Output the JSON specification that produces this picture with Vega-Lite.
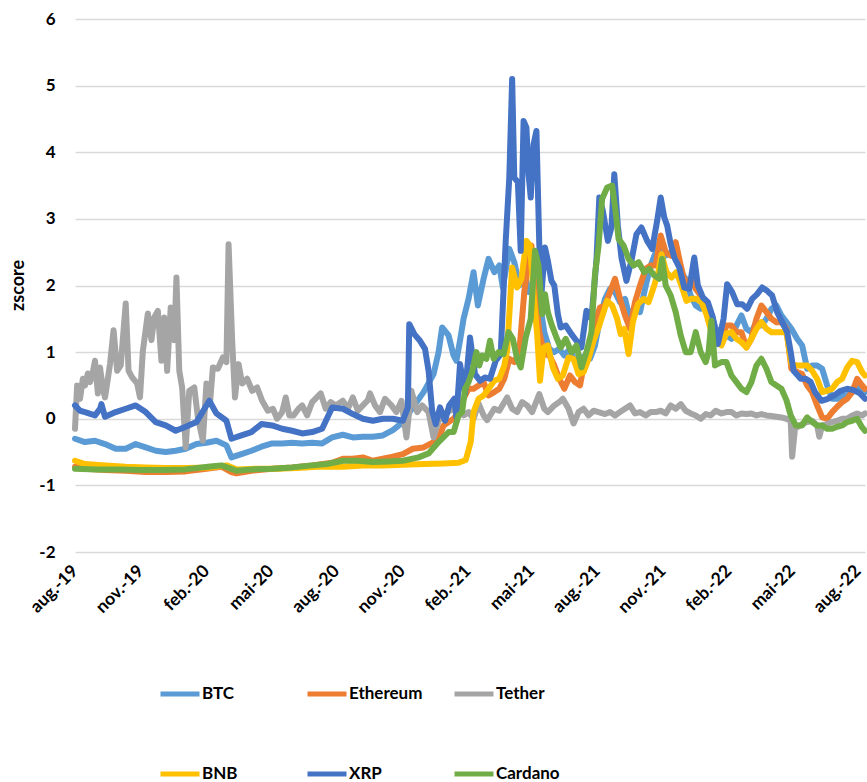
{
  "$schema": "https://vega.github.io/schema/vega-lite/v6.json",
  "autosize": "none",
  "padding": {"left": 75, "top": 19, "right": 2, "bottom": 230},
  "width": 790,
  "height": 533,
  "background": "white",
  "config": {
    "view": {"stroke": null},
    "font": "Lato"
  },
  "datasets": {
    "ticks": [
      {"t": "2019-08-01"}, {"t": "2019-11-01"}, {"t": "2020-02-01"}, {"t": "2020-05-01"},
      {"t": "2020-08-01"}, {"t": "2020-11-01"}, {"t": "2021-02-01"}, {"t": "2021-05-01"},
      {"t": "2021-08-01"}, {"t": "2021-11-01"}, {"t": "2022-02-01"}, {"t": "2022-05-01"},
      {"t": "2022-08-01"}
    ],
    "btc": [
      {"t":"2019-08-01","z":-0.3},{"t":"2019-08-15","z":-0.35},{"t":"2019-08-29","z":-0.33},{"t":"2019-09-12","z":-0.38},
      {"t":"2019-09-27","z":-0.45},{"t":"2019-10-11","z":-0.45},{"t":"2019-10-25","z":-0.38},{"t":"2019-11-08","z":-0.43},
      {"t":"2019-11-22","z":-0.48},{"t":"2019-12-06","z":-0.5},{"t":"2019-12-20","z":-0.48},{"t":"2020-01-03","z":-0.45},
      {"t":"2020-01-18","z":-0.38},{"t":"2020-02-01","z":-0.36},{"t":"2020-02-15","z":-0.33},{"t":"2020-02-29","z":-0.4},
      {"t":"2020-03-07","z":-0.58},{"t":"2020-03-21","z":-0.53},{"t":"2020-04-04","z":-0.48},{"t":"2020-04-18","z":-0.42},
      {"t":"2020-05-03","z":-0.37},{"t":"2020-05-17","z":-0.37},{"t":"2020-05-31","z":-0.36},{"t":"2020-06-14","z":-0.37},
      {"t":"2020-06-28","z":-0.36},{"t":"2020-07-12","z":-0.37},{"t":"2020-07-26","z":-0.28},{"t":"2020-08-10","z":-0.24},
      {"t":"2020-08-24","z":-0.28},{"t":"2020-09-07","z":-0.27},{"t":"2020-09-21","z":-0.27},{"t":"2020-10-05","z":-0.25},
      {"t":"2020-10-19","z":-0.17},{"t":"2020-11-02","z":-0.05},{"t":"2020-11-16","z":0.17},{"t":"2020-12-01","z":0.4},
      {"t":"2020-12-15","z":0.67},{"t":"2020-12-22","z":1.0},{"t":"2020-12-27","z":1.37},{"t":"2021-01-05","z":1.25},
      {"t":"2021-01-12","z":0.95},{"t":"2021-01-16","z":0.87},{"t":"2021-01-21","z":1.17},{"t":"2021-01-26","z":1.5},
      {"t":"2021-02-02","z":1.8},{"t":"2021-02-09","z":2.2},{"t":"2021-02-15","z":1.7},{"t":"2021-02-23","z":2.1},
      {"t":"2021-03-02","z":2.4},{"t":"2021-03-10","z":2.2},{"t":"2021-03-17","z":2.3},{"t":"2021-03-22","z":1.97},
      {"t":"2021-03-31","z":2.55},{"t":"2021-04-07","z":2.35},{"t":"2021-04-14","z":2.0},{"t":"2021-04-21","z":2.2},
      {"t":"2021-04-28","z":1.9},{"t":"2021-05-05","z":2.0},{"t":"2021-05-12","z":1.8},{"t":"2021-05-19","z":1.3},
      {"t":"2021-05-26","z":1.05},{"t":"2021-06-02","z":1.0},{"t":"2021-06-09","z":1.05},{"t":"2021-06-16","z":0.95},
      {"t":"2021-06-24","z":1.05},{"t":"2021-07-01","z":0.85},{"t":"2021-07-08","z":0.9},{"t":"2021-07-15","z":0.95},
      {"t":"2021-07-22","z":0.9},{"t":"2021-07-29","z":1.1},{"t":"2021-08-05","z":1.5},{"t":"2021-08-12","z":1.8},
      {"t":"2021-08-19","z":1.95},{"t":"2021-08-26","z":1.9},{"t":"2021-09-02","z":1.75},{"t":"2021-09-09","z":1.8},
      {"t":"2021-09-16","z":1.5},{"t":"2021-09-23","z":1.7},{"t":"2021-09-30","z":1.6},{"t":"2021-10-08","z":2.0},
      {"t":"2021-10-15","z":2.3},{"t":"2021-10-22","z":2.5},{"t":"2021-10-29","z":2.7},{"t":"2021-11-05","z":2.45},
      {"t":"2021-11-12","z":2.5},{"t":"2021-11-19","z":2.6},{"t":"2021-11-26","z":2.2},{"t":"2021-12-03","z":2.1},
      {"t":"2021-12-10","z":1.85},{"t":"2021-12-17","z":1.7},{"t":"2021-12-24","z":1.65},{"t":"2021-12-31","z":1.7},
      {"t":"2022-01-07","z":1.6},{"t":"2022-01-14","z":1.35},{"t":"2022-01-22","z":1.3},{"t":"2022-01-29","z":1.25},
      {"t":"2022-02-05","z":1.2},{"t":"2022-02-12","z":1.4},{"t":"2022-02-19","z":1.55},{"t":"2022-02-26","z":1.35},
      {"t":"2022-03-05","z":1.3},{"t":"2022-03-12","z":1.45},{"t":"2022-03-19","z":1.4},{"t":"2022-03-26","z":1.5},
      {"t":"2022-04-02","z":1.65},{"t":"2022-04-09","z":1.7},{"t":"2022-04-16","z":1.55},{"t":"2022-04-23","z":1.45},
      {"t":"2022-04-30","z":1.35},{"t":"2022-05-08","z":1.2},{"t":"2022-05-15","z":1.1},{"t":"2022-05-22","z":0.75},
      {"t":"2022-05-29","z":0.8},{"t":"2022-06-05","z":0.8},{"t":"2022-06-12","z":0.75},{"t":"2022-06-19","z":0.5},
      {"t":"2022-06-26","z":0.3},{"t":"2022-07-03","z":0.3},{"t":"2022-07-10","z":0.35},{"t":"2022-07-17","z":0.35},
      {"t":"2022-07-24","z":0.4},{"t":"2022-07-31","z":0.5},{"t":"2022-08-07","z":0.45},{"t":"2022-08-11","z":0.4}
    ],
    "eth": [
      {"t":"2019-08-01","z":-0.72},{"t":"2019-08-15","z":-0.75},{"t":"2019-09-12","z":-0.77},{"t":"2019-10-11","z":-0.78},
      {"t":"2019-11-08","z":-0.8},{"t":"2019-12-06","z":-0.8},{"t":"2020-01-03","z":-0.79},{"t":"2020-02-01","z":-0.75},
      {"t":"2020-02-22","z":-0.72},{"t":"2020-03-07","z":-0.8},{"t":"2020-03-14","z":-0.82},{"t":"2020-04-04","z":-0.78},
      {"t":"2020-05-03","z":-0.75},{"t":"2020-05-31","z":-0.73},{"t":"2020-06-28","z":-0.7},{"t":"2020-07-26","z":-0.66},
      {"t":"2020-08-10","z":-0.6},{"t":"2020-08-24","z":-0.6},{"t":"2020-09-07","z":-0.58},{"t":"2020-09-21","z":-0.63},
      {"t":"2020-10-05","z":-0.6},{"t":"2020-10-19","z":-0.57},{"t":"2020-11-02","z":-0.53},{"t":"2020-11-16","z":-0.45},
      {"t":"2020-12-01","z":-0.43},{"t":"2020-12-15","z":-0.35},{"t":"2020-12-22","z":-0.3},{"t":"2020-12-29","z":-0.1},
      {"t":"2021-01-05","z":-0.05},{"t":"2021-01-12","z":0.0},{"t":"2021-01-19","z":0.1},{"t":"2021-01-26","z":0.3},
      {"t":"2021-02-02","z":0.45},{"t":"2021-02-09","z":0.45},{"t":"2021-02-16","z":0.5},{"t":"2021-02-23","z":0.55},
      {"t":"2021-03-02","z":0.35},{"t":"2021-03-10","z":0.4},{"t":"2021-03-17","z":0.45},{"t":"2021-03-24","z":0.6},
      {"t":"2021-03-31","z":0.9},{"t":"2021-04-07","z":0.85},{"t":"2021-04-14","z":1.0},{"t":"2021-04-21","z":1.9},
      {"t":"2021-04-28","z":2.5},{"t":"2021-05-01","z":2.6},{"t":"2021-05-05","z":2.0},{"t":"2021-05-12","z":1.3},
      {"t":"2021-05-19","z":0.97},{"t":"2021-05-26","z":0.95},{"t":"2021-06-02","z":0.8},{"t":"2021-06-09","z":0.6},
      {"t":"2021-06-16","z":0.45},{"t":"2021-06-24","z":0.65},{"t":"2021-07-01","z":0.55},{"t":"2021-07-08","z":0.5},
      {"t":"2021-07-15","z":0.9},{"t":"2021-07-22","z":1.1},{"t":"2021-07-29","z":1.45},{"t":"2021-08-05","z":1.67},
      {"t":"2021-08-12","z":1.7},{"t":"2021-08-19","z":1.9},{"t":"2021-08-26","z":2.1},{"t":"2021-09-02","z":1.8},
      {"t":"2021-09-09","z":1.55},{"t":"2021-09-16","z":1.35},{"t":"2021-09-23","z":1.75},{"t":"2021-09-30","z":2.0},
      {"t":"2021-10-08","z":2.25},{"t":"2021-10-15","z":2.3},{"t":"2021-10-22","z":2.3},{"t":"2021-10-29","z":2.75},
      {"t":"2021-11-05","z":2.5},{"t":"2021-11-12","z":2.45},{"t":"2021-11-19","z":2.65},{"t":"2021-11-26","z":2.3},
      {"t":"2021-12-03","z":2.0},{"t":"2021-12-10","z":2.1},{"t":"2021-12-17","z":1.95},{"t":"2021-12-24","z":1.85},
      {"t":"2021-12-31","z":1.75},{"t":"2022-01-07","z":1.55},{"t":"2022-01-14","z":1.3},{"t":"2022-01-22","z":1.22},
      {"t":"2022-01-29","z":1.4},{"t":"2022-02-05","z":1.4},{"t":"2022-02-12","z":1.3},{"t":"2022-02-19","z":1.3},
      {"t":"2022-02-26","z":1.07},{"t":"2022-03-05","z":1.2},{"t":"2022-03-12","z":1.5},{"t":"2022-03-19","z":1.7},
      {"t":"2022-03-26","z":1.6},{"t":"2022-04-02","z":1.5},{"t":"2022-04-09","z":1.45},{"t":"2022-04-16","z":1.45},
      {"t":"2022-04-23","z":1.35},{"t":"2022-04-30","z":0.75},{"t":"2022-05-08","z":0.7},{"t":"2022-05-15","z":0.67},
      {"t":"2022-05-22","z":0.5},{"t":"2022-05-29","z":0.4},{"t":"2022-06-05","z":0.2},{"t":"2022-06-12","z":0.02},
      {"t":"2022-06-19","z":0.0},{"t":"2022-06-26","z":0.1},{"t":"2022-07-03","z":0.18},{"t":"2022-07-10","z":0.25},
      {"t":"2022-07-17","z":0.3},{"t":"2022-07-24","z":0.4},{"t":"2022-07-31","z":0.6},{"t":"2022-08-07","z":0.5},
      {"t":"2022-08-11","z":0.45}
    ],
    "usdt": [
      {"t":"2019-08-01","z":-0.15},{"t":"2019-08-04","z":0.5},{"t":"2019-08-08","z":0.3},{"t":"2019-08-12","z":0.6},
      {"t":"2019-08-15","z":0.5},{"t":"2019-08-19","z":0.68},{"t":"2019-08-22","z":0.55},{"t":"2019-08-26","z":0.7},
      {"t":"2019-08-29","z":0.87},{"t":"2019-09-02","z":0.38},{"t":"2019-09-05","z":0.77},{"t":"2019-09-09","z":0.45},
      {"t":"2019-09-12","z":0.32},{"t":"2019-09-16","z":0.6},{"t":"2019-09-19","z":0.82},{"t":"2019-09-24","z":1.33},
      {"t":"2019-09-29","z":0.72},{"t":"2019-10-04","z":0.8},{"t":"2019-10-11","z":1.73},{"t":"2019-10-15","z":0.72},
      {"t":"2019-10-20","z":0.62},{"t":"2019-10-27","z":0.53},{"t":"2019-10-31","z":0.32},{"t":"2019-11-04","z":1.02},
      {"t":"2019-11-11","z":1.58},{"t":"2019-11-16","z":1.18},{"t":"2019-11-20","z":1.52},{"t":"2019-11-25","z":1.62},
      {"t":"2019-11-30","z":0.87},{"t":"2019-12-04","z":1.52},{"t":"2019-12-08","z":0.72},{"t":"2019-12-13","z":1.67},
      {"t":"2019-12-18","z":1.18},{"t":"2019-12-21","z":2.12},{"t":"2019-12-25","z":0.72},{"t":"2019-12-29","z":0.47},
      {"t":"2020-01-03","z":-0.43},{"t":"2020-01-08","z":0.42},{"t":"2020-01-15","z":0.47},{"t":"2020-01-20","z":0.02},
      {"t":"2020-01-27","z":-0.33},{"t":"2020-02-01","z":0.53},{"t":"2020-02-06","z":0.23},{"t":"2020-02-10","z":0.77},
      {"t":"2020-02-17","z":0.75},{"t":"2020-02-24","z":0.92},{"t":"2020-02-29","z":0.85},{"t":"2020-03-03","z":2.62},
      {"t":"2020-03-08","z":1.18},{"t":"2020-03-12","z":0.32},{"t":"2020-03-17","z":0.82},{"t":"2020-03-22","z":0.53},
      {"t":"2020-03-29","z":0.6},{"t":"2020-04-05","z":0.42},{"t":"2020-04-12","z":0.47},{"t":"2020-04-19","z":0.27},
      {"t":"2020-04-27","z":0.12},{"t":"2020-05-04","z":0.15},{"t":"2020-05-10","z":0.0},{"t":"2020-05-17","z":0.1},
      {"t":"2020-05-22","z":0.32},{"t":"2020-05-27","z":0.05},{"t":"2020-06-02","z":0.05},{"t":"2020-06-09","z":0.15},
      {"t":"2020-06-14","z":0.2},{"t":"2020-06-21","z":0.05},{"t":"2020-06-28","z":0.25},{"t":"2020-07-10","z":0.38},
      {"t":"2020-07-17","z":0.15},{"t":"2020-07-24","z":0.25},{"t":"2020-07-31","z":0.2},{"t":"2020-08-10","z":0.27},
      {"t":"2020-08-17","z":0.15},{"t":"2020-08-24","z":0.32},{"t":"2020-08-31","z":0.12},{"t":"2020-09-07","z":0.2},
      {"t":"2020-09-14","z":0.28},{"t":"2020-09-17","z":0.38},{"t":"2020-09-24","z":0.2},{"t":"2020-10-01","z":0.1},
      {"t":"2020-10-08","z":0.3},{"t":"2020-10-17","z":0.2},{"t":"2020-10-24","z":0.1},{"t":"2020-10-31","z":0.27},
      {"t":"2020-11-07","z":-0.28},{"t":"2020-11-14","z":0.42},{"t":"2020-11-22","z":0.1},{"t":"2020-11-29","z":0.2},
      {"t":"2020-12-08","z":0.1},{"t":"2020-12-15","z":-0.28},{"t":"2020-12-22","z":-0.03},{"t":"2020-12-31","z":0.08},
      {"t":"2021-01-12","z":0.15},{"t":"2021-01-19","z":0.2},{"t":"2021-01-26","z":0.05},{"t":"2021-02-02","z":0.1},
      {"t":"2021-02-09","z":0.0},{"t":"2021-02-16","z":0.23},{"t":"2021-02-23","z":0.05},{"t":"2021-02-28","z":-0.02},
      {"t":"2021-03-10","z":0.15},{"t":"2021-03-17","z":0.12},{"t":"2021-03-28","z":0.32},{"t":"2021-04-04","z":0.15},
      {"t":"2021-04-11","z":0.1},{"t":"2021-04-18","z":0.25},{"t":"2021-04-25","z":0.2},{"t":"2021-05-02","z":0.1},
      {"t":"2021-05-12","z":0.37},{"t":"2021-05-19","z":0.15},{"t":"2021-05-24","z":0.1},{"t":"2021-06-02","z":0.2},
      {"t":"2021-06-09","z":0.25},{"t":"2021-06-14","z":0.3},{"t":"2021-06-22","z":0.15},{"t":"2021-06-29","z":-0.07},
      {"t":"2021-07-06","z":0.1},{"t":"2021-07-13","z":0.15},{"t":"2021-07-20","z":0.05},{"t":"2021-07-27","z":0.12},
      {"t":"2021-08-03","z":0.1},{"t":"2021-08-12","z":0.07},{"t":"2021-08-19","z":0.1},{"t":"2021-08-26","z":0.05},
      {"t":"2021-09-02","z":0.1},{"t":"2021-09-09","z":0.15},{"t":"2021-09-16","z":0.2},{"t":"2021-09-23","z":0.08},
      {"t":"2021-09-30","z":0.1},{"t":"2021-10-08","z":0.05},{"t":"2021-10-15","z":0.1},{"t":"2021-10-22","z":0.1},
      {"t":"2021-10-29","z":0.12},{"t":"2021-11-05","z":0.08},{"t":"2021-11-12","z":0.2},{"t":"2021-11-19","z":0.15},
      {"t":"2021-11-26","z":0.22},{"t":"2021-12-03","z":0.12},{"t":"2021-12-10","z":0.08},{"t":"2021-12-17","z":0.05},
      {"t":"2021-12-24","z":0.0},{"t":"2021-12-31","z":0.07},{"t":"2022-01-07","z":0.05},{"t":"2022-01-14","z":0.12},
      {"t":"2022-01-22","z":0.08},{"t":"2022-01-29","z":0.1},{"t":"2022-02-05","z":0.1},{"t":"2022-02-12","z":0.05},
      {"t":"2022-02-19","z":0.08},{"t":"2022-02-26","z":0.07},{"t":"2022-03-05","z":0.08},{"t":"2022-03-12","z":0.05},
      {"t":"2022-03-19","z":0.07},{"t":"2022-03-26","z":0.05},{"t":"2022-04-02","z":0.04},{"t":"2022-04-09","z":0.03},
      {"t":"2022-04-16","z":0.02},{"t":"2022-04-23","z":0.0},{"t":"2022-04-29","z":-0.03},{"t":"2022-05-01","z":-0.57},
      {"t":"2022-05-05","z":-0.15},{"t":"2022-05-15","z":-0.08},{"t":"2022-05-22","z":-0.05},{"t":"2022-05-29","z":-0.03},
      {"t":"2022-06-05","z":-0.1},{"t":"2022-06-08","z":-0.27},{"t":"2022-06-12","z":-0.1},{"t":"2022-06-19","z":-0.08},
      {"t":"2022-06-26","z":-0.05},{"t":"2022-07-03","z":-0.03},{"t":"2022-07-10","z":0.0},{"t":"2022-07-17","z":0.0},
      {"t":"2022-07-24","z":0.05},{"t":"2022-07-31","z":0.08},{"t":"2022-08-07","z":0.05},{"t":"2022-08-11","z":0.08}
    ],
    "bnb": [
      {"t":"2019-08-01","z":-0.63},{"t":"2019-08-15","z":-0.68},{"t":"2019-09-12","z":-0.7},{"t":"2019-10-11","z":-0.72},
      {"t":"2019-11-08","z":-0.73},{"t":"2019-12-06","z":-0.74},{"t":"2020-01-03","z":-0.74},{"t":"2020-02-08","z":-0.73},
      {"t":"2020-02-29","z":-0.7},{"t":"2020-03-14","z":-0.76},{"t":"2020-04-11","z":-0.75},{"t":"2020-05-10","z":-0.75},
      {"t":"2020-06-07","z":-0.74},{"t":"2020-07-05","z":-0.72},{"t":"2020-08-10","z":-0.72},{"t":"2020-09-07","z":-0.7},
      {"t":"2020-10-05","z":-0.7},{"t":"2020-11-02","z":-0.69},{"t":"2020-12-01","z":-0.68},{"t":"2020-12-29","z":-0.67},
      {"t":"2021-01-19","z":-0.66},{"t":"2021-01-29","z":-0.62},{"t":"2021-02-05","z":-0.35},{"t":"2021-02-09","z":0.1},
      {"t":"2021-02-16","z":0.3},{"t":"2021-02-23","z":0.35},{"t":"2021-03-02","z":0.45},{"t":"2021-03-10","z":0.57},
      {"t":"2021-03-17","z":0.6},{"t":"2021-03-24","z":0.8},{"t":"2021-03-28","z":1.02},{"t":"2021-04-04","z":2.27},
      {"t":"2021-04-11","z":1.97},{"t":"2021-04-17","z":2.1},{"t":"2021-04-24","z":2.67},{"t":"2021-04-29","z":2.6},
      {"t":"2021-05-04","z":1.87},{"t":"2021-05-09","z":1.27},{"t":"2021-05-13","z":0.57},{"t":"2021-05-18","z":1.07},
      {"t":"2021-05-24","z":1.1},{"t":"2021-05-31","z":0.77},{"t":"2021-06-07","z":0.6},{"t":"2021-06-14","z":0.65},
      {"t":"2021-06-22","z":0.92},{"t":"2021-06-29","z":0.9},{"t":"2021-07-06","z":0.67},{"t":"2021-07-13","z":0.7},
      {"t":"2021-07-20","z":0.9},{"t":"2021-07-27","z":1.17},{"t":"2021-08-03","z":1.37},{"t":"2021-08-10","z":1.6},
      {"t":"2021-08-15","z":1.77},{"t":"2021-08-22","z":1.7},{"t":"2021-08-29","z":1.5},{"t":"2021-09-03","z":1.27},
      {"t":"2021-09-08","z":1.35},{"t":"2021-09-14","z":0.97},{"t":"2021-09-20","z":1.45},{"t":"2021-09-27","z":1.72},
      {"t":"2021-10-05","z":1.8},{"t":"2021-10-12","z":1.75},{"t":"2021-10-19","z":1.97},{"t":"2021-10-26","z":2.22},
      {"t":"2021-10-30","z":2.47},{"t":"2021-11-06","z":2.2},{"t":"2021-11-13","z":2.12},{"t":"2021-11-20","z":2.2},
      {"t":"2021-11-27","z":2.0},{"t":"2021-12-04","z":1.77},{"t":"2021-12-11","z":1.8},{"t":"2021-12-18","z":1.8},
      {"t":"2021-12-25","z":1.75},{"t":"2022-01-01","z":1.57},{"t":"2022-01-08","z":1.3},{"t":"2022-01-16","z":1.15},
      {"t":"2022-01-22","z":1.1},{"t":"2022-01-29","z":1.28},{"t":"2022-02-05","z":1.3},{"t":"2022-02-12","z":1.2},
      {"t":"2022-02-19","z":1.15},{"t":"2022-02-26","z":1.07},{"t":"2022-03-05","z":1.2},{"t":"2022-03-12","z":1.35},
      {"t":"2022-03-19","z":1.45},{"t":"2022-03-26","z":1.35},{"t":"2022-04-02","z":1.3},{"t":"2022-04-09","z":1.3},
      {"t":"2022-04-16","z":1.3},{"t":"2022-04-23","z":1.3},{"t":"2022-04-30","z":0.82},{"t":"2022-05-08","z":0.8},
      {"t":"2022-05-15","z":0.8},{"t":"2022-05-22","z":0.8},{"t":"2022-05-29","z":0.72},{"t":"2022-06-05","z":0.6},
      {"t":"2022-06-12","z":0.4},{"t":"2022-06-19","z":0.42},{"t":"2022-06-26","z":0.45},{"t":"2022-07-03","z":0.55},
      {"t":"2022-07-10","z":0.6},{"t":"2022-07-17","z":0.77},{"t":"2022-07-24","z":0.87},{"t":"2022-07-31","z":0.85},
      {"t":"2022-08-07","z":0.7},{"t":"2022-08-11","z":0.65}
    ],
    "xrp": [
      {"t":"2019-08-01","z":0.2},{"t":"2019-08-08","z":0.12},{"t":"2019-08-15","z":0.1},{"t":"2019-08-29","z":0.05},
      {"t":"2019-09-05","z":0.15},{"t":"2019-09-07","z":0.22},{"t":"2019-09-12","z":0.03},{"t":"2019-09-27","z":0.1},
      {"t":"2019-10-11","z":0.15},{"t":"2019-10-25","z":0.2},{"t":"2019-11-08","z":0.1},{"t":"2019-11-22","z":-0.05},
      {"t":"2019-12-06","z":-0.1},{"t":"2019-12-20","z":-0.18},{"t":"2020-01-03","z":-0.12},{"t":"2020-01-18","z":-0.05},
      {"t":"2020-02-01","z":0.2},{"t":"2020-02-05","z":0.27},{"t":"2020-02-15","z":0.08},{"t":"2020-02-29","z":-0.03},
      {"t":"2020-03-07","z":-0.3},{"t":"2020-03-21","z":-0.25},{"t":"2020-04-04","z":-0.2},{"t":"2020-04-18","z":-0.08},
      {"t":"2020-05-03","z":-0.1},{"t":"2020-05-17","z":-0.15},{"t":"2020-05-31","z":-0.18},{"t":"2020-06-14","z":-0.22},
      {"t":"2020-06-28","z":-0.2},{"t":"2020-07-12","z":-0.15},{"t":"2020-07-26","z":0.17},{"t":"2020-08-10","z":0.15},
      {"t":"2020-08-24","z":0.07},{"t":"2020-09-07","z":0.0},{"t":"2020-09-21","z":-0.03},{"t":"2020-10-05","z":0.0},
      {"t":"2020-10-19","z":0.0},{"t":"2020-11-02","z":-0.03},{"t":"2020-11-09","z":0.17},{"t":"2020-11-11","z":1.42},
      {"t":"2020-11-18","z":1.27},{"t":"2020-11-26","z":1.17},{"t":"2020-12-03","z":1.05},{"t":"2020-12-08","z":0.72},
      {"t":"2020-12-13","z":0.12},{"t":"2020-12-18","z":-0.08},{"t":"2020-12-24","z":0.17},{"t":"2020-12-31","z":-0.03},
      {"t":"2021-01-06","z":0.2},{"t":"2021-01-13","z":0.3},{"t":"2021-01-16","z":0.02},{"t":"2021-01-21","z":0.82},
      {"t":"2021-01-28","z":0.38},{"t":"2021-02-04","z":1.22},{"t":"2021-02-11","z":0.67},{"t":"2021-02-18","z":0.57},
      {"t":"2021-02-25","z":0.62},{"t":"2021-03-04","z":0.6},{"t":"2021-03-12","z":0.87},{"t":"2021-03-19","z":0.97},
      {"t":"2021-03-26","z":2.67},{"t":"2021-03-31","z":3.62},{"t":"2021-04-04","z":5.1},{"t":"2021-04-07","z":3.62},
      {"t":"2021-04-12","z":3.55},{"t":"2021-04-16","z":2.52},{"t":"2021-04-20","z":4.47},{"t":"2021-04-24","z":4.37},
      {"t":"2021-04-27","z":3.67},{"t":"2021-04-30","z":3.32},{"t":"2021-05-04","z":4.12},{"t":"2021-05-08","z":4.32},
      {"t":"2021-05-12","z":2.62},{"t":"2021-05-15","z":1.87},{"t":"2021-05-20","z":2.57},{"t":"2021-05-24","z":2.37},
      {"t":"2021-05-29","z":2.07},{"t":"2021-06-02","z":2.0},{"t":"2021-06-07","z":1.57},{"t":"2021-06-11","z":1.37},
      {"t":"2021-06-18","z":1.4},{"t":"2021-06-26","z":1.27},{"t":"2021-07-03","z":1.17},{"t":"2021-07-10","z":1.07},
      {"t":"2021-07-17","z":1.62},{"t":"2021-07-24","z":1.5},{"t":"2021-07-31","z":2.37},{"t":"2021-08-04","z":3.32},
      {"t":"2021-08-09","z":3.12},{"t":"2021-08-16","z":2.67},{"t":"2021-08-21","z":2.87},{"t":"2021-08-25","z":3.67},
      {"t":"2021-08-30","z":2.9},{"t":"2021-09-04","z":2.42},{"t":"2021-09-11","z":2.07},{"t":"2021-09-18","z":2.37},
      {"t":"2021-09-25","z":2.77},{"t":"2021-10-02","z":2.87},{"t":"2021-10-10","z":2.67},{"t":"2021-10-17","z":2.55},
      {"t":"2021-10-24","z":2.97},{"t":"2021-10-29","z":3.32},{"t":"2021-11-03","z":3.02},{"t":"2021-11-07","z":2.9},
      {"t":"2021-11-12","z":2.62},{"t":"2021-11-17","z":2.42},{"t":"2021-11-24","z":2.27},{"t":"2021-12-01","z":1.97},
      {"t":"2021-12-08","z":1.95},{"t":"2021-12-15","z":2.42},{"t":"2021-12-20","z":2.0},{"t":"2021-12-27","z":1.82},
      {"t":"2022-01-03","z":1.75},{"t":"2022-01-10","z":1.52},{"t":"2022-01-17","z":1.12},{"t":"2022-01-25","z":1.5},
      {"t":"2022-01-30","z":2.02},{"t":"2022-02-06","z":1.9},{"t":"2022-02-13","z":1.72},{"t":"2022-02-20","z":1.72},
      {"t":"2022-02-27","z":1.65},{"t":"2022-03-06","z":1.8},{"t":"2022-03-13","z":1.87},{"t":"2022-03-20","z":1.97},
      {"t":"2022-03-27","z":1.92},{"t":"2022-04-03","z":1.85},{"t":"2022-04-10","z":1.6},{"t":"2022-04-17","z":1.45},
      {"t":"2022-04-24","z":1.3},{"t":"2022-04-29","z":1.0},{"t":"2022-05-03","z":0.72},{"t":"2022-05-13","z":0.6},
      {"t":"2022-05-20","z":0.6},{"t":"2022-05-27","z":0.55},{"t":"2022-06-02","z":0.4},{"t":"2022-06-11","z":0.27},
      {"t":"2022-06-20","z":0.3},{"t":"2022-06-29","z":0.35},{"t":"2022-07-08","z":0.42},{"t":"2022-07-17","z":0.45},
      {"t":"2022-07-26","z":0.43},{"t":"2022-08-04","z":0.38},{"t":"2022-08-11","z":0.3}
    ],
    "ada": [
      {"t":"2019-08-01","z":-0.75},{"t":"2019-09-01","z":-0.76},{"t":"2019-10-02","z":-0.76},{"t":"2019-11-02","z":-0.77},
      {"t":"2019-12-02","z":-0.77},{"t":"2020-01-02","z":-0.76},{"t":"2020-02-03","z":-0.72},{"t":"2020-02-22","z":-0.7},
      {"t":"2020-03-14","z":-0.78},{"t":"2020-04-04","z":-0.76},{"t":"2020-05-04","z":-0.75},{"t":"2020-05-31","z":-0.73},
      {"t":"2020-06-28","z":-0.7},{"t":"2020-07-19","z":-0.68},{"t":"2020-08-10","z":-0.63},{"t":"2020-08-31","z":-0.63},
      {"t":"2020-09-21","z":-0.65},{"t":"2020-10-12","z":-0.64},{"t":"2020-11-02","z":-0.63},{"t":"2020-11-24","z":-0.58},
      {"t":"2020-12-08","z":-0.52},{"t":"2020-12-22","z":-0.35},{"t":"2021-01-05","z":-0.2},{"t":"2021-01-12","z":-0.2},
      {"t":"2021-01-19","z":0.05},{"t":"2021-01-24","z":0.1},{"t":"2021-01-28","z":0.45},{"t":"2021-02-02","z":0.55},
      {"t":"2021-02-07","z":0.7},{"t":"2021-02-13","z":1.0},{"t":"2021-02-17","z":0.8},{"t":"2021-02-21","z":0.95},
      {"t":"2021-02-27","z":0.9},{"t":"2021-03-04","z":1.17},{"t":"2021-03-09","z":0.9},{"t":"2021-03-16","z":1.0},
      {"t":"2021-03-23","z":0.97},{"t":"2021-03-30","z":1.3},{"t":"2021-04-05","z":1.2},{"t":"2021-04-11","z":0.9},
      {"t":"2021-04-16","z":0.77},{"t":"2021-04-23","z":1.22},{"t":"2021-04-30","z":1.5},{"t":"2021-05-06","z":2.52},
      {"t":"2021-05-11","z":2.3},{"t":"2021-05-16","z":1.57},{"t":"2021-05-20","z":1.87},{"t":"2021-05-24","z":1.6},
      {"t":"2021-05-29","z":1.42},{"t":"2021-06-05","z":1.22},{"t":"2021-06-11","z":1.07},{"t":"2021-06-18","z":1.2},
      {"t":"2021-06-26","z":1.0},{"t":"2021-07-03","z":1.1},{"t":"2021-07-10","z":0.77},{"t":"2021-07-17","z":1.0},
      {"t":"2021-07-24","z":1.3},{"t":"2021-07-29","z":2.17},{"t":"2021-08-03","z":2.6},{"t":"2021-08-08","z":3.3},
      {"t":"2021-08-15","z":3.47},{"t":"2021-08-22","z":3.5},{"t":"2021-08-27","z":3.1},{"t":"2021-08-31","z":2.7},
      {"t":"2021-09-07","z":2.6},{"t":"2021-09-14","z":2.4},{"t":"2021-09-21","z":2.3},{"t":"2021-09-28","z":2.35},
      {"t":"2021-10-06","z":2.2},{"t":"2021-10-13","z":2.25},{"t":"2021-10-20","z":2.15},{"t":"2021-10-27","z":2.1},
      {"t":"2021-10-31","z":2.4},{"t":"2021-11-05","z":2.0},{"t":"2021-11-12","z":1.85},{"t":"2021-11-19","z":1.6},
      {"t":"2021-11-26","z":1.25},{"t":"2021-12-03","z":1.0},{"t":"2021-12-10","z":1.0},{"t":"2021-12-17","z":1.3},
      {"t":"2021-12-24","z":1.0},{"t":"2021-12-31","z":0.85},{"t":"2022-01-04","z":1.0},{"t":"2022-01-08","z":1.47},
      {"t":"2022-01-13","z":0.8},{"t":"2022-01-22","z":0.85},{"t":"2022-01-29","z":0.85},{"t":"2022-02-05","z":0.65},
      {"t":"2022-02-12","z":0.55},{"t":"2022-02-19","z":0.45},{"t":"2022-02-26","z":0.4},{"t":"2022-03-05","z":0.55},
      {"t":"2022-03-12","z":0.8},{"t":"2022-03-19","z":0.9},{"t":"2022-03-26","z":0.75},{"t":"2022-04-02","z":0.55},
      {"t":"2022-04-09","z":0.5},{"t":"2022-04-16","z":0.45},{"t":"2022-04-23","z":0.28},{"t":"2022-04-29","z":0.05},
      {"t":"2022-05-06","z":-0.1},{"t":"2022-05-15","z":-0.1},{"t":"2022-05-22","z":0.02},{"t":"2022-05-29","z":-0.05},
      {"t":"2022-06-05","z":-0.1},{"t":"2022-06-12","z":-0.1},{"t":"2022-06-19","z":-0.15},{"t":"2022-06-26","z":-0.15},
      {"t":"2022-07-03","z":-0.12},{"t":"2022-07-10","z":-0.1},{"t":"2022-07-17","z":-0.05},{"t":"2022-07-24","z":-0.03},
      {"t":"2022-07-31","z":0.0},{"t":"2022-08-07","z":-0.13},{"t":"2022-08-11","z":-0.18}
    ]
  },
  "encoding": {
    "x": {
      "field": "t",
      "type": "temporal",
      "scale": {
        "type": "utc",
        "domain": [
          {"year": 2019, "month": 8, "date": 1, "utc": true},
          {"year": 2022, "month": 8, "date": 11, "utc": true}
        ]
      },
      "axis": {
        "values": [
          {"year": 2019, "month": 8, "date": 1, "utc": true},
          {"year": 2019, "month": 11, "date": 1, "utc": true},
          {"year": 2020, "month": 2, "date": 1, "utc": true},
          {"year": 2020, "month": 5, "date": 1, "utc": true},
          {"year": 2020, "month": 8, "date": 1, "utc": true},
          {"year": 2020, "month": 11, "date": 1, "utc": true},
          {"year": 2021, "month": 2, "date": 1, "utc": true},
          {"year": 2021, "month": 5, "date": 1, "utc": true},
          {"year": 2021, "month": 8, "date": 1, "utc": true},
          {"year": 2021, "month": 11, "date": 1, "utc": true},
          {"year": 2022, "month": 2, "date": 1, "utc": true},
          {"year": 2022, "month": 5, "date": 1, "utc": true},
          {"year": 2022, "month": 8, "date": 1, "utc": true}
        ],
        "labelExpr": "['jan.','feb.','mar.','apr.','mai','jun.','jul.','aug.','sep.','okt.','nov.','des.'][utcmonth(datum.value)] + '-' + utcFormat(datum.value, '%y')",
        "title": null,
        "grid": false,
        "domain": false,
        "ticks": false,
        "labelAngle": -45,
        "labelAlign": "right",
        "labelBaseline": "middle",
        "labelPadding": 16,
        "labelFont": "Lato",
        "labelFontWeight": "bold",
        "labelFontSize": 17.5,
        "labelColor": "#000000",
        "labelOverlap": false,
        "labelFlush": false,
        "labelBound": false
      }
    },
    "y": {
      "field": "z",
      "type": "quantitative",
      "scale": {"domain": [-2, 6], "nice": false, "zero": false},
      "axis": {
        "values": [-2, -1, 0, 1, 2, 3, 4, 5, 6],
        "labelExpr": "'' + datum.value",
        "title": "zscore",
        "titleFont": "Lato",
        "titleFontWeight": "bold",
        "titleFontSize": 18,
        "titleColor": "#000000",
        "titleAngle": 270,
        "titleX": -57,
        "titleY": 266,
        "titleAlign": "center",
        "titleBaseline": "middle",
        "grid": true,
        "gridColor": "#d9d9d9",
        "gridWidth": 1.3,
        "domain": false,
        "ticks": false,
        "labelPadding": 20,
        "labelFont": "Lato",
        "labelFontWeight": "bold",
        "labelFontSize": 17,
        "labelColor": "#000000"
      }
    }
  },
  "layer": [
    {
      "data": {"name": "ticks"},
      "mark": {"type": "rule", "color": "#d9d9d9", "strokeWidth": 1.3},
      "encoding": {"y": {"datum": 0}, "y2": {"datum": -0.08}}
    },
    {
      "data": {"name": "btc"},
      "mark": {"type": "line", "strokeWidth": 6, "strokeCap": "round", "strokeJoin": "round"},
      "encoding": {
        "color": {
          "datum": "BTC",
          "type": "nominal",
          "scale": {
            "domain": ["BTC", "Ethereum", "Tether", "BNB", "XRP", "Cardano"],
            "range": ["#5B9BD5", "#ED7D31", "#A5A5A5", "#FFC000", "#4472C4", "#70AD47"]
          },
          "legend": {
            "orient": "none",
            "legendX": 83,
            "legendY": 653,
            "direction": "horizontal",
            "columns": 3,
            "gridAlign": "all",
            "columnPadding": 21,
            "rowPadding": 48,
            "symbolType": "stroke",
            "symbolSize": 1521,
            "symbolStrokeWidth": 5,
            "labelFont": "Lato",
            "labelFontSize": 17,
            "labelFontWeight": "bold",
            "labelColor": "#000000",
            "labelOffset": 0,
            "labelLimit": 200,
            "padding": 0,
            "title": null
          }
        }
      }
    },
    {"data": {"name": "eth"}, "mark": {"type": "line", "strokeWidth": 6, "strokeCap": "round", "strokeJoin": "round"}, "encoding": {"color": {"datum": "Ethereum", "type": "nominal"}}},
    {"data": {"name": "usdt"}, "mark": {"type": "line", "strokeWidth": 6, "strokeCap": "round", "strokeJoin": "round"}, "encoding": {"color": {"datum": "Tether", "type": "nominal"}}},
    {"data": {"name": "bnb"}, "mark": {"type": "line", "strokeWidth": 6, "strokeCap": "round", "strokeJoin": "round"}, "encoding": {"color": {"datum": "BNB", "type": "nominal"}}},
    {"data": {"name": "xrp"}, "mark": {"type": "line", "strokeWidth": 6, "strokeCap": "round", "strokeJoin": "round"}, "encoding": {"color": {"datum": "XRP", "type": "nominal"}}},
    {"data": {"name": "ada"}, "mark": {"type": "line", "strokeWidth": 6, "strokeCap": "round", "strokeJoin": "round"}, "encoding": {"color": {"datum": "Cardano", "type": "nominal"}}}
  ]
}
